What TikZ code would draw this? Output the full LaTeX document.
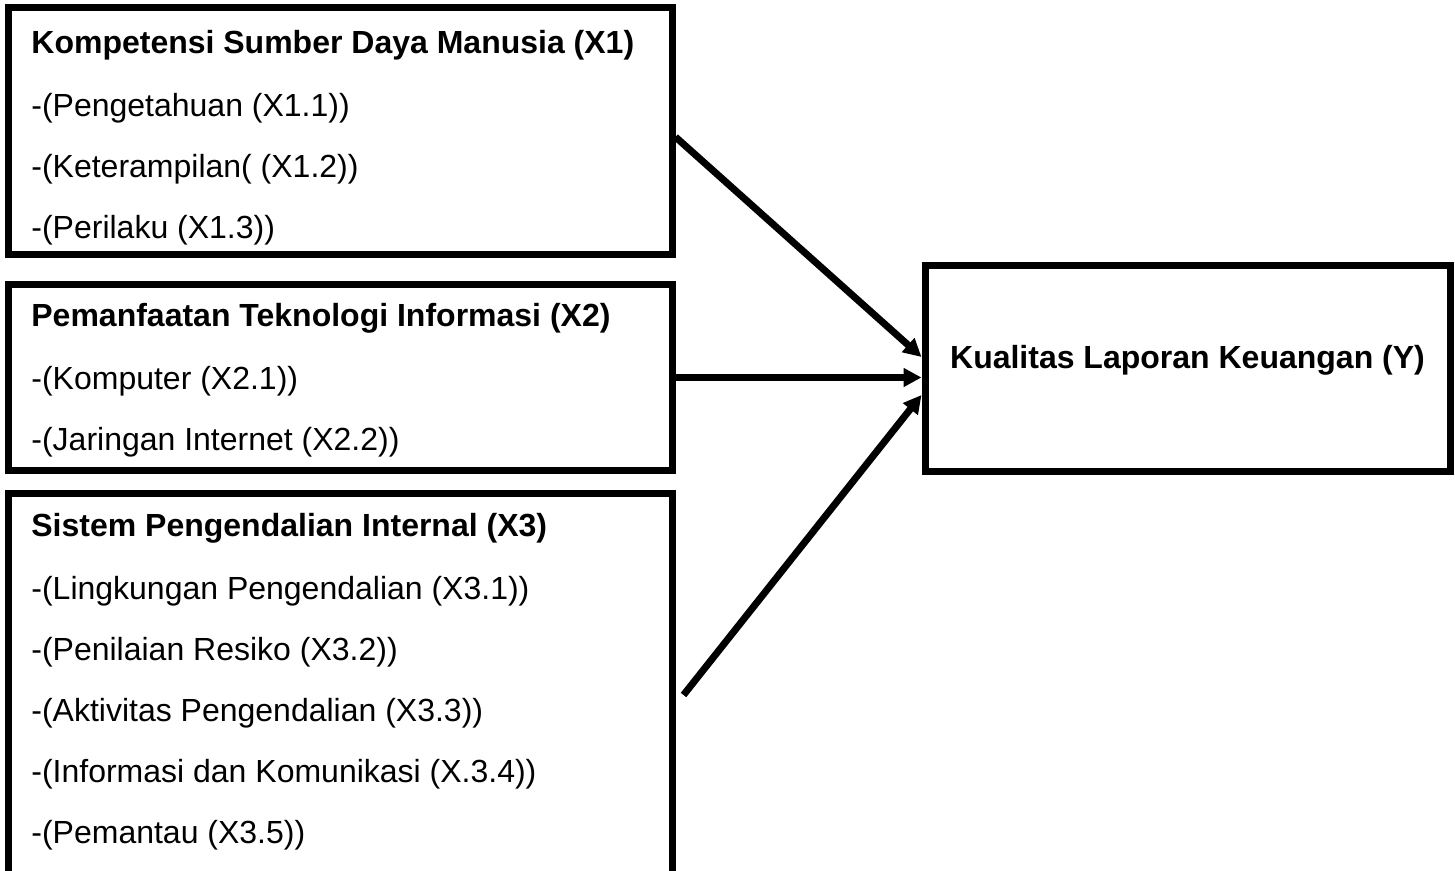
\documentclass[tikz,border=0pt]{standalone}
\usepackage{fontspec}
\setmainfont{Liberation Sans}
\usetikzlibrary{arrows.meta, positioning, fit}

\begin{document}
\begin{tikzpicture}[
  x=0.5pt, y=-0.5pt,
  varbox/.style={draw, line width=3.5pt, inner sep=0pt},
  varlist/.style={inner sep=0pt, align=left, font=\fontsize{16pt}{30.5pt}\selectfont},
  varname/.style={anchor=base, inner sep=0pt, font=\fontsize{16pt}{30.5pt}\selectfont\bfseries},
  link/.style={-{Triangle[length=9pt, width=9pt]}, line width=3.5pt},
]
  \useasboundingbox (0,0) rectangle (1455,871);

  % Variabel independen
  \node[varbox, fit={(8,8) (672,255)}] (x1) {};
  \node[varbox, fit={(8,285) (672,470)}] (x2) {};
  \node[varbox, fit={(8,493) (672,897)}] (x3) {};
  % Variabel dependen
  \node[varbox, fit={(925,266) (1450,471)}] (y) {};

  \node[varlist, below right=12.6pt and 13.25pt of x1.north west] (x1list) {\textbf{Kompetensi Sumber Daya Manusia (X1)}\\[1.25pt]
    -(Pengetahuan (X1.1))\\
    -(Keterampilan( (X1.2))\\
    -(Perilaku (X1.3))};
  \node[varlist, below right=10.6pt and 13.25pt of x2.north west] (x2list) {\textbf{Pemanfaatan Teknologi Informasi (X2)}\\[1.25pt]
    -(Komputer (X2.1))\\
    -(Jaringan Internet (X2.2))};
  \node[varlist, below right=11.6pt and 13.25pt of x3.north west] (x3list) {\textbf{Sistem Pengendalian Internal (X3)}\\[1.25pt]
    -(Lingkungan Pengendalian (X3.1))\\
    -(Penilaian Resiko (X3.2))\\
    -(Aktivitas Pengendalian (X3.3))\\
    -(Informasi dan Komunikasi (X.3.4))\\
    -(Pemantau (X3.5))};
  \node[varname] (ylabel) at (y.center) {Kualitas Laporan Keuangan (Y)};

  \draw[link] ([yshift=-2.75pt]x1.east) -- ([yshift=5.75pt]y.west);
  \draw[link] (x2.east) -- (x2.east -| y.west);
  \draw[link] ([xshift=4pt]x3.east) -- ([yshift=-13.25pt]y.west);
\end{tikzpicture}
\end{document}
